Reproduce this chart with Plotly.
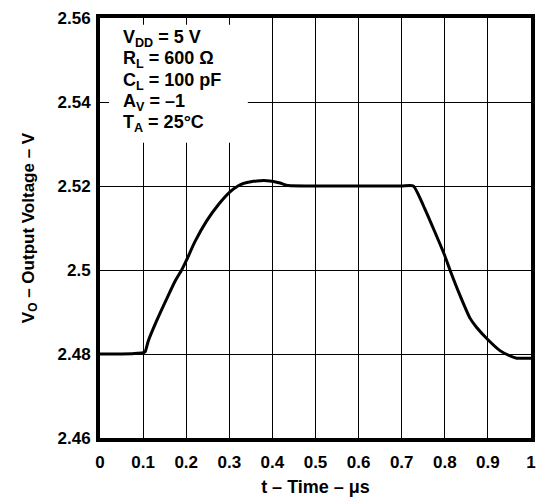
import plotly.graph_objects as go

# output voltage step response
time_us = [0, 0.05, 0.08, 0.1, 0.105, 0.112, 0.13, 0.155, 0.175, 0.1895, 0.201,
           0.22, 0.2475, 0.275, 0.3016, 0.32, 0.3325, 0.35, 0.364, 0.38, 0.394,
           0.405, 0.418, 0.437, 0.5, 0.6, 0.7, 0.727, 0.75, 0.773, 0.8, 0.812,
           0.835, 0.858, 0.874, 0.899, 0.928, 0.95, 0.967, 1.0]
vout = [2.48, 2.48, 2.4801, 2.4803, 2.4806, 2.4831, 2.4876, 2.4932, 2.4975, 2.5,
        2.5024, 2.5067, 2.5117, 2.5156, 2.5186, 2.5200, 2.5206, 2.5210, 2.5212,
        2.5213, 2.5212, 2.5210, 2.5207, 2.5201, 2.52, 2.52, 2.52, 2.52, 2.5154,
        2.5100, 2.5034, 2.5, 2.494, 2.4886, 2.4863, 2.4835, 2.4808, 2.4796,
        2.479, 2.479]

x_ticks = [0, 0.1, 0.2, 0.3, 0.4, 0.5, 0.6, 0.7, 0.8, 0.9, 1]
x_labels = ["0", "0.1", "0.2", "0.3", "0.4", "0.5", "0.6", "0.7", "0.8", "0.9", "1"]
y_ticks = [2.46, 2.48, 2.5, 2.52, 2.54, 2.56]
y_labels = ["2.46", "2.48", "2.5", "2.52", "2.54", "2.56"]

conditions = [
    "V<sub>DD</sub> = 5 V",
    "R<sub>L</sub> = 600 Ω",
    "C<sub>L</sub> = 100 pF",
    "A<sub>V</sub> = –1",
    "T<sub>A</sub> = 25°C",
]

fig = go.Figure()
fig.add_trace(go.Scatter(
    x=time_us, y=vout,
    mode="lines",
    line=dict(color="black", width=3, shape="spline", smoothing=0.5),
    showlegend=False,
    hoverinfo="skip",
))

axis_common = dict(
    showline=True, linecolor="black", linewidth=4, mirror="ticks",
    showgrid=True, gridcolor="black", gridwidth=1,
    ticks="inside", ticklen=8, tickwidth=1, tickcolor="black",
    zeroline=False, ticklabeloverflow="allow",
    tickfont=dict(size=17, color="black", weight="bold"),
)

fig.update_xaxes(
    range=[0, 1], tickvals=x_ticks, ticktext=x_labels,
    ticklabelstandoff=6,
    title=dict(text="t – Time – μs", font=dict(size=18, weight="bold"), standoff=10),
    **axis_common,
)
fig.update_yaxes(
    range=[2.46, 2.56], tickvals=y_ticks, ticktext=y_labels,
    ticklabelstandoff=2,
    title=dict(text="V<sub>O</sub> – Output Voltage – V",
               font=dict(size=17, weight="bold"), standoff=20),
    **axis_common,
)

# white box behind the test conditions
fig.add_shape(type="rect", xref="x", yref="y",
              x0=0.021, x1=0.343, y0=2.5303, y1=2.5584,
              fillcolor="white", line=dict(width=0), layer="above")

# one annotation per condition line, evenly spaced
line_y = [0.952, 0.901, 0.85, 0.799, 0.748]
for text, y in zip(conditions, line_y):
    fig.add_annotation(
        xref="paper", yref="paper", x=0.048, y=y,
        xanchor="left", yanchor="middle", align="left",
        text=text, showarrow=False,
        font=dict(size=18, color="black", weight="bold"),
    )

fig.update_layout(
    width=556, height=501,
    margin=dict(l=92, r=33, t=1, b=71),
    paper_bgcolor="white", plot_bgcolor="white",
    font=dict(family="Liberation Sans, Arial, sans-serif", color="black"),
)

fig.write_html("out.html")
